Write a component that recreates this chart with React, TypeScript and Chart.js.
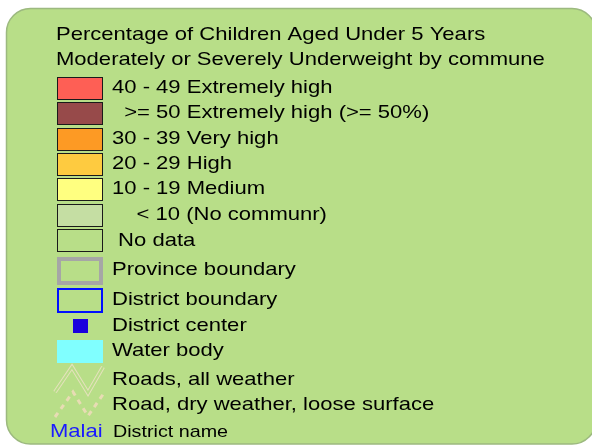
import React, { useEffect, useRef } from "react";
import { Chart, registerables } from "chart.js";

Chart.register(...registerables);

const TITLE_LINES = [
  "Percentage of Children Aged Under 5 Years",
  "Moderately or Severely Underweight by commune",
];

const CLASS_LABELS = [
  "40 - 49 Extremely high",
  "  >= 50 Extremely high (>= 50%)",
  "30 - 39 Very high",
  "20 - 29 High",
  "10 - 19 Medium",
  "    < 10 (No communr)",
  " No data",
];

const CLASS_COLORS = [
  "#fe5f55",
  "#974a4a",
  "#fd9a24",
  "#fecb40",
  "#ffff80",
  "#c5dea3",
  "#b8de88",
];

const FEATURE_LABELS = [
  "Province boundary",
  "District boundary",
  "District center",
  "Water body",
  "Roads, all weather",
  "Road, dry weather, loose surface",
  "District name",
];

const SAMPLE_DISTRICT = "Malai";

const BG = "#b8de88";
const FONT = '"Liberation Sans", Arial, sans-serif';
const SX = 1.16;

function text(ctx: CanvasRenderingContext2D, s: string, x: number, y: number, size: number, color = "#000") {
  ctx.save();
  ctx.font = `${size}px ${FONT}`;
  ctx.fillStyle = color;
  ctx.textBaseline = "alphabetic";
  ctx.translate(x, y);
  ctx.scale(SX, 1);
  ctx.fillText(s, 0, 0);
  ctx.restore();
}

const legendPlugin = {
  id: "mapLegend",
  beforeDraw(chart: any) {
    const ctx: CanvasRenderingContext2D = chart.ctx;
    const W = chart.width;
    const H = chart.height;
    ctx.save();
    ctx.fillStyle = "#ffffff";
    ctx.fillRect(0, 0, W, H);
    // rounded box
    const x0 = 6.5, y0 = 8.5, x1 = 596, y1 = 444, r = 24;
    ctx.beginPath();
    ctx.moveTo(x0 + r, y0);
    ctx.lineTo(x1 - r, y0);
    ctx.arcTo(x1, y0, x1, y0 + r, r);
    ctx.lineTo(x1, y1 - r);
    ctx.arcTo(x1, y1, x1 - r, y1, r);
    ctx.lineTo(x0 + r, y1);
    ctx.arcTo(x0, y1, x0, y1 - r, r);
    ctx.lineTo(x0, y0 + r);
    ctx.arcTo(x0, y0, x0 + r, y0, r);
    ctx.closePath();
    ctx.fillStyle = BG;
    ctx.fill();
    ctx.strokeStyle = "#9cb97f";
    ctx.lineWidth = 1.5;
    ctx.stroke();

    // title
    text(ctx, TITLE_LINES[0], 56, 40, 19);
    text(ctx, TITLE_LINES[1], 56, 65, 19);

    // class swatches
    CLASS_LABELS.forEach((lab, i) => {
      const top = Math.round(77 + i * 25.3);
      ctx.fillStyle = CLASS_COLORS[i];
      ctx.fillRect(57, top, 45, 22);
      ctx.strokeStyle = "#1a1a1a";
      ctx.lineWidth = 1;
      ctx.strokeRect(57.5, top + 0.5, 45, 22);
      text(ctx, lab, 112, top + 16 + (i === 6 ? 1 : 0), 19);
    });

    // province boundary
    ctx.strokeStyle = "#a6a6a6";
    ctx.lineWidth = 4;
    ctx.strokeRect(59, 259, 42, 24);
    text(ctx, FEATURE_LABELS[0], 112, 275, 19);

    // district boundary
    ctx.strokeStyle = "#0010ff";
    ctx.lineWidth = 2;
    ctx.strokeRect(58, 289, 44, 23);
    text(ctx, FEATURE_LABELS[1], 112, 305, 19);

    // district center
    ctx.fillStyle = "#1a00dd";
    ctx.fillRect(73, 319, 15, 14);
    text(ctx, FEATURE_LABELS[2], 112, 331, 19);

    // water body
    ctx.fillStyle = "#80ffff";
    ctx.fillRect(57, 340, 46, 23);
    text(ctx, FEATURE_LABELS[3], 112, 356, 19);

    // roads all weather
    const road = [
      [55, 392],
      [72, 367],
      [88, 393],
      [103, 367],
    ];
    ctx.lineJoin = "miter";
    ctx.beginPath();
    road.forEach(([x, y], k) => (k ? ctx.lineTo(x, y) : ctx.moveTo(x, y)));
    ctx.strokeStyle = "#e6e2bd";
    ctx.lineWidth = 4;
    ctx.stroke();
    ctx.strokeStyle = BG;
    ctx.lineWidth = 2;
    ctx.stroke();
    text(ctx, FEATURE_LABELS[4], 112, 385, 19);

    // dry road
    const dry = [
      [55, 417],
      [73, 392],
      [88, 416],
      [104, 393],
    ];
    ctx.beginPath();
    dry.forEach(([x, y], k) => (k ? ctx.lineTo(x, y) : ctx.moveTo(x, y)));
    ctx.strokeStyle = "#e8dcb4";
    ctx.lineWidth = 3;
    ctx.setLineDash([5, 5]);
    ctx.stroke();
    ctx.setLineDash([]);
    text(ctx, FEATURE_LABELS[5], 112, 410, 19);

    // district name
    text(ctx, SAMPLE_DISTRICT, 50, 437, 19, "#1a1aff");
    text(ctx, FEATURE_LABELS[6], 113, 437, 17);
    ctx.restore();
  },
};

export default function App() {
  const ref = useRef<HTMLCanvasElement | null>(null);
  useEffect(() => {
    if (!ref.current) return;
    const chart = new Chart(ref.current, {
      type: "bar",
      data: {
        labels: CLASS_LABELS,
        datasets: [{ data: [], backgroundColor: CLASS_COLORS }],
      },
      options: {
        responsive: false,
        animation: false,
        events: [],
        layout: { padding: 0 },
        plugins: { legend: { display: false }, tooltip: { enabled: false } },
        scales: { x: { display: false }, y: { display: false } },
      },
      plugins: [legendPlugin],
    });
    return () => chart.destroy();
  }, []);
  return (
    <div style={{ position: "fixed", left: 0, top: 0, width: 592, height: 445 }}>
      <canvas ref={ref} width={592} height={445} style={{ display: "block", width: 592, height: 445 }} />
    </div>
  );
}
